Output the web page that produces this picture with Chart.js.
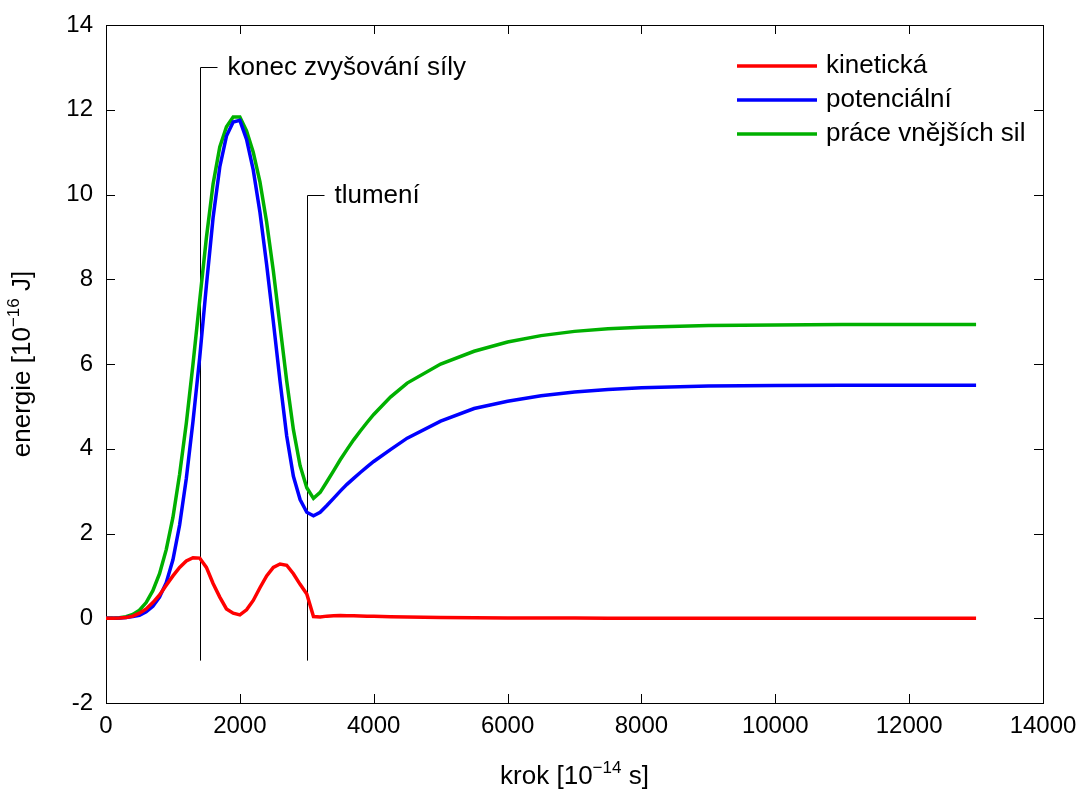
<!DOCTYPE html>
<html>
<head>
<meta charset="utf-8">
<title>energie</title>
<script src="https://cdn.jsdelivr.net/npm/chart.js@4/dist/chart.umd.min.js"></script>
<style>
  html, body { margin: 0; padding: 0; background: #fff; }
  #graf { display: block; }
</style>
</head>
<body>
<canvas id="graf" width="1082" height="795"></canvas>
<script>
// krok simulace (10^-14 s)
var steps = [
    0, 100, 200, 300, 400, 500, 600, 700, 800, 900,
    1000, 1100, 1200, 1300, 1400, 1500, 1600, 1700, 1800, 1900,
    2000, 2100, 2200, 2300, 2400, 2500, 2600, 2700, 2800, 2900,
    3000, 3100, 3200, 3300, 3400, 3500, 3600, 3700, 3800, 3900,
    4000, 4250, 4500, 5000, 5500, 6000, 6500, 7000, 7500, 8000,
    9000, 10000, 11000, 12000, 13000
];

// energie (10^-16 J)
var kineticka = [
    0, 0.001, 0.005, 0.015, 0.05, 0.12, 0.22, 0.37, 0.55, 0.78,
    1.0, 1.2, 1.35, 1.43, 1.42, 1.2, 0.82, 0.5, 0.22, 0.12,
    0.08, 0.2, 0.42, 0.72, 1.0, 1.2, 1.28, 1.25, 1.05, 0.8,
    0.57, 0.04, 0.03, 0.05, 0.06, 0.065, 0.06, 0.06, 0.055, 0.05,
    0.045, 0.035, 0.03, 0.02, 0.012, 0.008, 0.005, 0.003, 0.002, 0.001,
    0, 0, 0, 0, 0
];
var potencialni = [
    0, 0.002, 0.007, 0.02, 0.04, 0.07, 0.15, 0.28, 0.5, 0.84,
    1.38, 2.2, 3.3, 4.65, 6.15, 7.85, 9.45, 10.65, 11.38, 11.71,
    11.75, 11.3, 10.58, 9.58, 8.35, 7.0, 5.6, 4.3, 3.35, 2.8,
    2.5, 2.42, 2.5, 2.66, 2.83, 3.0, 3.16, 3.3, 3.44, 3.57,
    3.7, 3.98, 4.25, 4.65, 4.95, 5.12, 5.25, 5.34, 5.4, 5.44,
    5.48, 5.49, 5.5, 5.5, 5.5
];
var praceSil = [
    0, 0.003, 0.012, 0.035, 0.09, 0.19, 0.37, 0.65, 1.05, 1.62,
    2.38, 3.4, 4.6, 6.0, 7.5, 8.98, 10.25, 11.12, 11.6, 11.83,
    11.83, 11.5, 11.0, 10.3, 9.35, 8.2, 6.9, 5.6, 4.45, 3.6,
    3.08, 2.83, 2.97, 3.22, 3.48, 3.74, 3.98, 4.21, 4.42, 4.62,
    4.81, 5.22, 5.55, 6.0, 6.3, 6.52, 6.67, 6.77, 6.83, 6.87,
    6.91, 6.92, 6.93, 6.93, 6.93
];

var seriesLabels = ['kinetická', 'potenciální', 'práce vnějších sil'];
var seriesColors = ['#ff0000', '#0000ff', '#00b000'];

// svislé značky událostí
var markerSteps = [1400, 3000];
var markerTops = [13, 10];
var markerBottom = -1;
var markerLabels = ['konec zvyšování síly', 'tlumení'];

var xTicks = [0, 2000, 4000, 6000, 8000, 10000, 12000, 14000];
var yTicks = [-2, 0, 2, 4, 6, 8, 10, 12, 14];

var FONT = '"Liberation Sans", Arial, sans-serif';
var FONT_SIZE = 26;
var TICK_SIZE = 24;

function toPoints(values) {
    return steps.map(function(s, i) { return { x: s, y: values[i] }; });
}

// text s horním indexem: parts = [[text, sup], ...]
function drawRich(ctx, parts, cx, cy) {
    var big = FONT_SIZE + 'px ' + FONT;
    var small = Math.round(FONT_SIZE * 0.65) + 'px ' + FONT;
    var total = 0;
    parts.forEach(function(p) {
        ctx.font = p[1] ? small : big;
        total += ctx.measureText(p[0]).width;
    });
    var x = cx - total / 2;
    ctx.textBaseline = 'middle';
    ctx.textAlign = 'left';
    parts.forEach(function(p) {
        ctx.font = p[1] ? small : big;
        ctx.fillText(p[0], x, p[1] ? cy - FONT_SIZE * 0.33 : cy);
        x += ctx.measureText(p[0]).width;
    });
}

var framePlugin = {
    id: 'frame',
    // rámeček, značky os a svislé čáry pod křivkami
    beforeDatasetsDraw: function(chart) {
        var ctx = chart.ctx;
        var a = chart.chartArea;
        var xs = chart.scales.x, ys = chart.scales.y;
        var tick = 9;

        ctx.save();
        ctx.strokeStyle = '#000';
        ctx.lineWidth = 1;
        ctx.strokeRect(Math.round(a.left) + 0.5, Math.round(a.top) + 0.5,
            Math.round(a.right - a.left), Math.round(a.bottom - a.top));

        ctx.beginPath();
        xTicks.forEach(function(v) {
            var px = Math.round(xs.getPixelForValue(v)) + 0.5;
            ctx.moveTo(px, a.bottom); ctx.lineTo(px, a.bottom - tick);
            ctx.moveTo(px, a.top); ctx.lineTo(px, a.top + tick);
        });
        yTicks.forEach(function(v) {
            var py = Math.round(ys.getPixelForValue(v)) + 0.5;
            ctx.moveTo(a.left, py); ctx.lineTo(a.left + tick, py);
            ctx.moveTo(a.right, py); ctx.lineTo(a.right - tick, py);
        });
        ctx.stroke();

        ctx.fillStyle = '#000';
        ctx.font = FONT_SIZE + 'px ' + FONT;
        ctx.textBaseline = 'middle';
        ctx.textAlign = 'left';
        markerSteps.forEach(function(s, i) {
            var px = Math.round(xs.getPixelForValue(s)) + 0.5;
            var top = Math.round(ys.getPixelForValue(markerTops[i])) + 0.5;
            var bot = ys.getPixelForValue(markerBottom);
            ctx.beginPath();
            ctx.moveTo(px, bot);
            ctx.lineTo(px, top);
            ctx.lineTo(px + 17, top);
            ctx.stroke();
            ctx.fillText(markerLabels[i], px + 27, top);
        });
        ctx.restore();
    },
    afterDraw: function(chart) {
        var ctx = chart.ctx;
        var a = chart.chartArea;

        ctx.save();
        ctx.font = FONT_SIZE + 'px ' + FONT;
        ctx.textBaseline = 'middle';
        ctx.textAlign = 'left';

        // legenda
        var lx1 = a.right - 306, lx2 = a.right - 226, ly = a.top + 41;
        chart.data.datasets.forEach(function(ds, i) {
            var y = ly + i * 34;
            ctx.strokeStyle = ds.borderColor;
            ctx.lineWidth = 3.5;
            ctx.beginPath();
            ctx.moveTo(lx1, y);
            ctx.lineTo(lx2, y);
            ctx.stroke();
            ctx.fillStyle = '#000';
            ctx.fillText(ds.label, lx2 + 9, y);
        });

        // popisky os
        ctx.fillStyle = '#000';
        drawRich(ctx, [['krok [10', false], ['\u221214', true], [' s]', false]],
            (a.left + a.right) / 2, 777);
        ctx.translate(23, (a.top + a.bottom) / 2);
        ctx.rotate(-Math.PI / 2);
        drawRich(ctx, [['energie [10', false], ['\u221216', true], [' J]', false]], 0, 0);
        ctx.restore();
    }
};

var datasets = [kineticka, potencialni, praceSil].map(function(vals, i) {
    return {
        label: seriesLabels[i],
        data: toPoints(vals),
        borderColor: seriesColors[i],
        backgroundColor: seriesColors[i],
        borderWidth: 3.5,
        pointRadius: 0,
        tension: 0,
        fill: false
    };
});

var ctx = document.getElementById('graf').getContext('2d');
new Chart(ctx, {
    type: 'line',
    data: { datasets: datasets },
    options: {
        responsive: false,
        animation: false,
        devicePixelRatio: 1,
        layout: { padding: { left: 0, right: 39, top: 25, bottom: 0 } },
        plugins: {
            legend: { display: false },
            tooltip: { enabled: false }
        },
        scales: {
            x: {
                type: 'linear',
                min: 0,
                max: 14000,
                grid: { display: false, drawTicks: false },
                border: { display: false },
                afterFit: function(s) {
                    s.height = 92;
                    s.paddingLeft = 0;
                    s.paddingRight = 0;
                },
                afterBuildTicks: function(s) {
                    s.ticks = xTicks.map(function(v) { return { value: v }; });
                },
                ticks: {
                    padding: 9,
                    color: '#000',
                    font: { family: FONT, size: TICK_SIZE },
                    maxRotation: 0,
                    callback: function(v) { return String(v); }
                }
            },
            y: {
                min: -2,
                max: 14,
                grid: { display: false, drawTicks: false },
                border: { display: false },
                afterFit: function(s) {
                    s.width = 106;
                    s.paddingTop = 0;
                    s.paddingBottom = 0;
                },
                afterBuildTicks: function(s) {
                    s.ticks = yTicks.map(function(v) { return { value: v }; });
                },
                ticks: {
                    padding: 13,
                    color: '#000',
                    font: { family: FONT, size: TICK_SIZE },
                    callback: function(v) { return String(v); }
                }
            }
        }
    },
    plugins: [framePlugin]
});
</script>
</body>
</html>
